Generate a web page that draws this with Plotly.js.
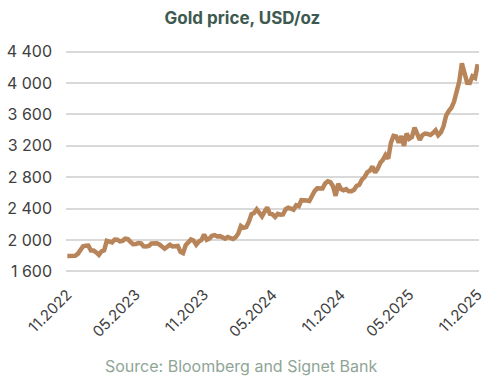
<!DOCTYPE html>
<html>
<head>
<meta charset="utf-8">
<script src="https://cdn.plot.ly/plotly-3.0.1.min.js"></script>
<style>
html,body{margin:0;padding:0;background:#fff;}
#chart{width:503px;height:385px;}
</style>
</head>
<body>
<div id="chart"></div>
<script>
// Weekly gold price, USD/oz (week index 0 = early Dec 2022 ... 156 = late Nov 2025)
const goldPrice = [
  1797,1797,1793,1798,1824,1865,1920,1926,1929,1865,
  1865,1842,1811,1855,1868,1989,1978,1969,2007,2004,
  1983,1990,2017,2011,1977,1946,1948,1961,1958,1921,
  1919,1925,1955,1962,1959,1943,1914,1889,1915,1940,
  1919,1924,1925,1849,1833,1933,1982,2006,1992,1940,
  1981,2002,2072,2004,2019,2053,2063,2045,2049,2029,
  2018,2039,2024,2013,2036,2083,2179,2155,2165,2230,
  2329,2344,2392,2337,2301,2360,2415,2334,2327,2293,
  2333,2322,2326,2392,2411,2400,2387,2443,2431,2507,
  2512,2503,2497,2577,2622,2658,2653,2657,2721,2747,
  2736,2685,2563,2716,2650,2633,2648,2622,2621,2640,
  2690,2703,2770,2800,2861,2883,2936,2858,2910,2984,
  3023,3084,3037,3237,3327,3319,3240,3325,3200,3357,
  3289,3310,3432,3368,3274,3337,3355,3350,3337,3363,
  3397,3336,3371,3448,3586,3643,3685,3760,3887,4018,
  4251,4113,4002,4000,4085,4065,4240
];
const weekIndex = goldPrice.map((_, i) => i);

const xTickVals = [0, 26, 52, 78, 104, 130, 156];
const xTickText = ['11.2022', '05.2023', '11.2023', '05.2024', '11.2024', '05.2025', '11.2025'];
const yTickVals = [1600, 2000, 2400, 2800, 3200, 3600, 4000, 4400];
const yTickText = ['1 600', '2 000', '2 400', '2 800', '3 200', '3 600', '4 000', '4 400'];

const FONT = 'Inter, "Open Sans", sans-serif';

const trace = {
  x: weekIndex,
  y: goldPrice,
  type: 'scatter',
  mode: 'lines',
  line: {color: '#B8845A', width: 4.5},
  hoverinfo: 'skip'
};

const layout = {
  width: 503,
  height: 385,
  margin: {l: 66, r: 24, t: 50, b: 112},
  paper_bgcolor: '#ffffff',
  plot_bgcolor: '#ffffff',
  showlegend: false,
  font: {family: FONT, color: '#404040', size: 15},
  title: {
    text: '<b>Gold price, USD/oz</b>',
    font: {family: FONT, size: 17, color: '#3E5A50'},
    x: 0.482, xref: 'container', xanchor: 'center',
    y: 0.953, yref: 'container', yanchor: 'middle'
  },
  xaxis: {
    range: [-0.5, 156.5],
    tickvals: xTickVals,
    ticktext: xTickText,
    tickangle: -45,
    showgrid: false,
    zeroline: false,
    showline: false,
    ticks: '',
    ticklabelstandoff: 9,
    tickfont: {family: FONT, size: 15, color: '#404040'},
    fixedrange: true
  },
  yaxis: {
    range: [1580, 4420],
    tickvals: yTickVals,
    ticktext: yTickText,
    showgrid: true,
    gridcolor: '#D9D9D9',
    gridwidth: 2,
    zeroline: false,
    showline: false,
    ticks: '',
    ticklabelstandoff: 13,
    tickfont: {family: FONT, size: 16, color: '#404040'},
    fixedrange: true
  },
  annotations: [{
    text: 'Source: Bloomberg and Signet Bank',
    xref: 'paper', yref: 'paper',
    x: 0.426, y: -0.417,
    xanchor: 'center', yanchor: 'middle',
    showarrow: false,
    font: {family: FONT, size: 16, color: '#8FA596'}
  }]
};

Plotly.newPlot('chart', [trace], layout, {displayModeBar: false, staticPlot: true});
</script>
</body>
</html>
